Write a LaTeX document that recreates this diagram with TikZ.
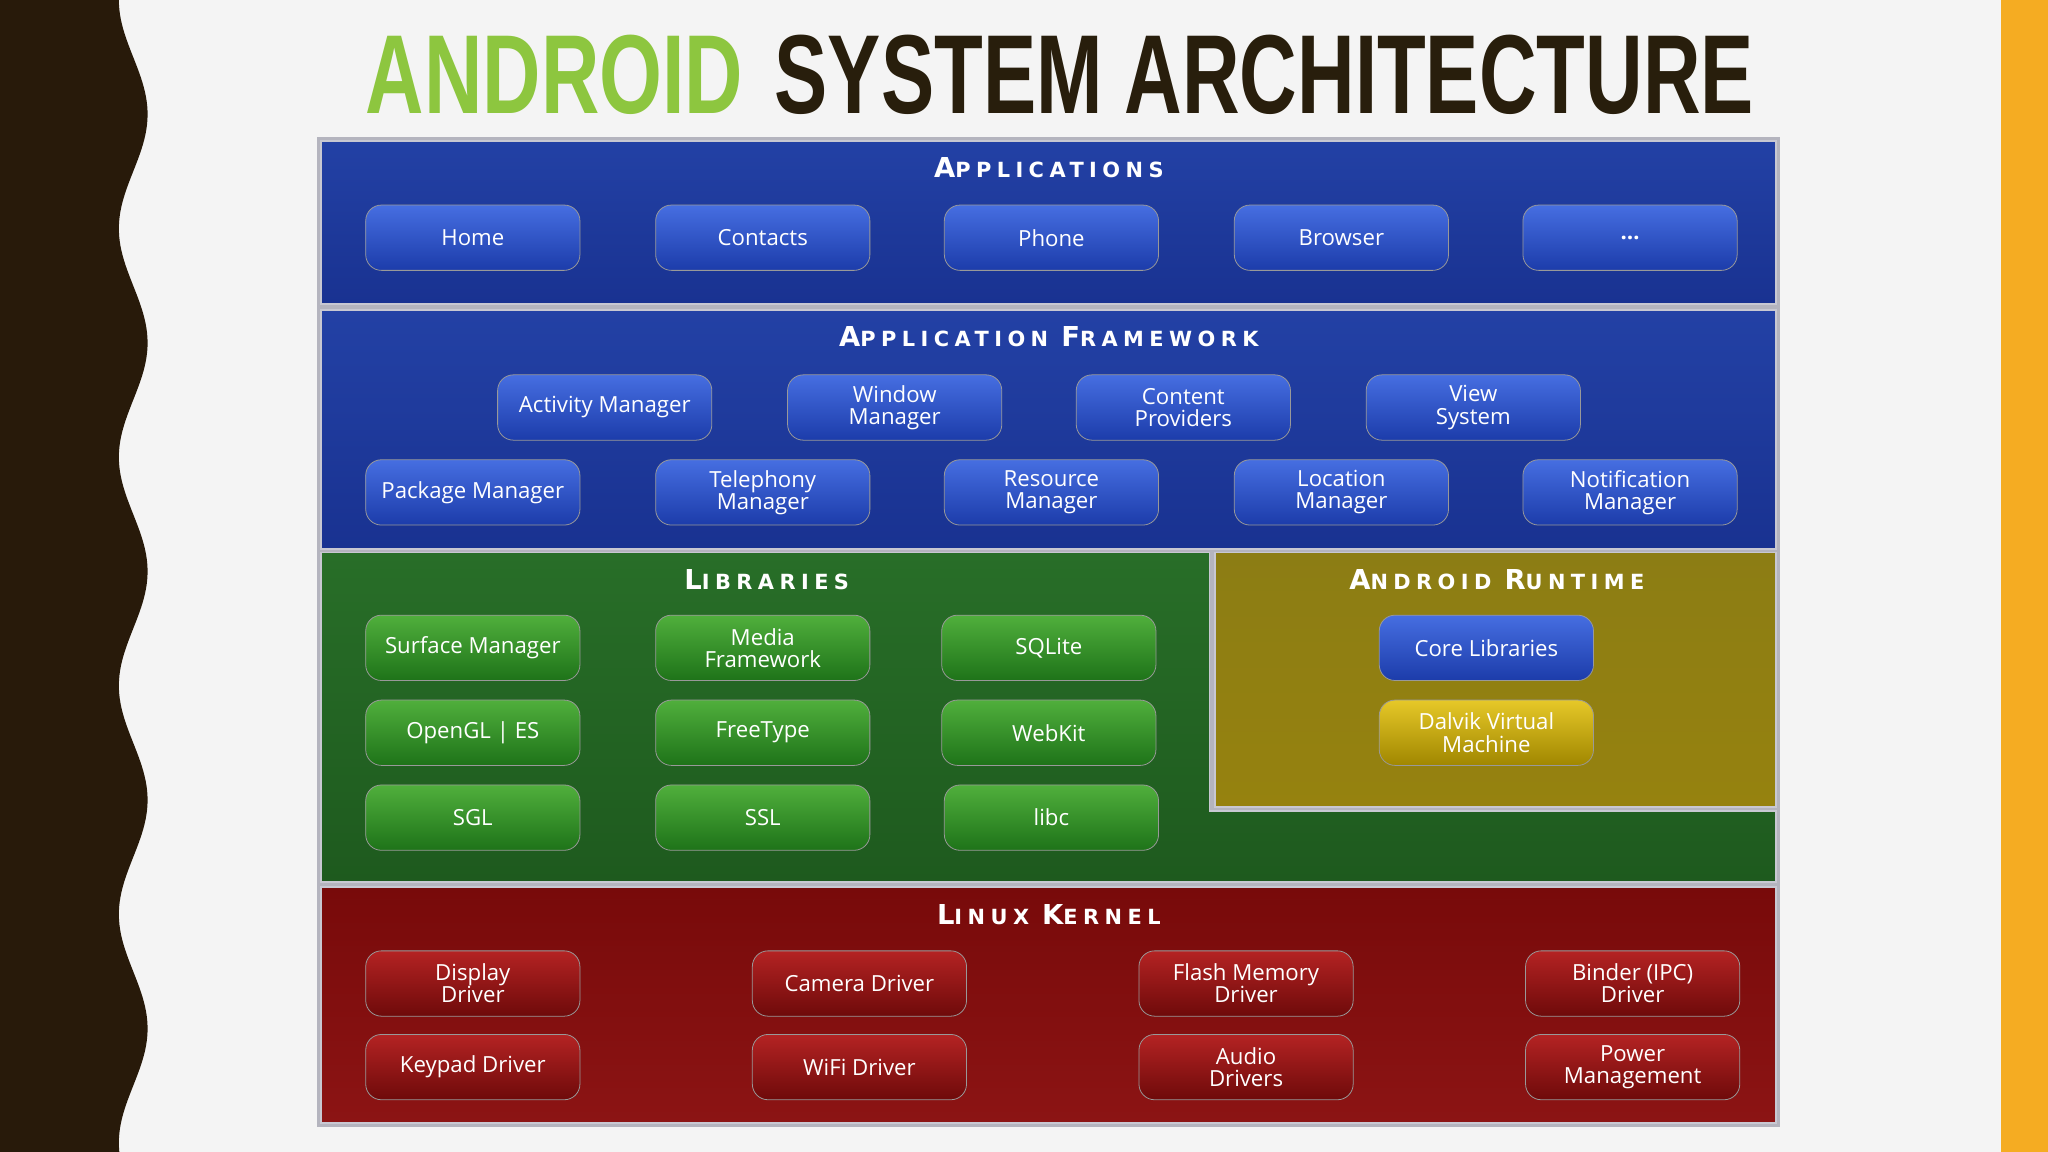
\documentclass[tikz,border=0pt]{standalone}
\usepackage{fontspec}
\setmainfont{Open Sans}
\newfontfamily\titlefont{Liberation Sans}
\newfontfamily\headfont[LetterSpace=26]{DejaVu Sans}
\newcommand{\hw}[2]{{\fontsize{21}{21}\selectfont #1}{\fontsize{16}{16}\selectfont #2}}
\definecolor{bg}{RGB}{244,244,244}
\definecolor{orng}{RGB}{245,172,34}
\definecolor{brn}{RGB}{40,26,10}
\definecolor{tgreen}{RGB}{141,198,63}
\definecolor{tdark}{RGB}{40,30,12}
\definecolor{frm}{RGB}{180,180,190}
\definecolor{pedge}{RGB}{200,200,210}
\definecolor{bluet}{RGB}{70,110,225}\definecolor{blueb}{RGB}{28,60,170}
\definecolor{greent}{RGB}{80,175,60}\definecolor{greenb}{RGB}{30,115,25}
\definecolor{redt}{RGB}{180,35,35}\definecolor{redb}{RGB}{110,10,10}
\definecolor{yelt}{RGB}{230,200,40}\definecolor{yelb}{RGB}{160,135,0}
\definecolor{pblt}{RGB}{35,65,165}\definecolor{pblb}{RGB}{25,50,145}
\definecolor{pgrt}{RGB}{40,110,40}\definecolor{pgrb}{RGB}{30,90,30}
\definecolor{pyet}{RGB}{140,125,20}\definecolor{pyeb}{RGB}{150,130,15}
\definecolor{pret}{RGB}{120,10,10}\definecolor{preb}{RGB}{140,20,20}
\begin{document}
\begin{tikzpicture}[x=1pt,y=-1pt,
  btn/.style={rounded corners=12pt,minimum width=164pt,minimum height=50pt,inner sep=2pt,
     text=white,align=center,font=\fontsize{17}{17}\selectfont,draw=black!40,line width=0.6pt},
  bblue/.style={btn,top color=bluet,bottom color=blueb},
  bgreen/.style={btn,top color=greent,bottom color=greenb},
  bred/.style={btn,top color=redt,bottom color=redb},
  byel/.style={btn,top color=yelt,bottom color=yelb},
  panel/.style={draw=pedge,line width=1.5pt},
  head/.style={text=white,font=\headfont\bfseries}]
\useasboundingbox (0,0) rectangle (1568,882);
\fill[bg] (0,0) rectangle (1568,882);
\fill[orng] (1532,0) rectangle (1568,882);
\fill[brn] (0,0) -- plot[domain=0:5.04,samples=240] ({102-11*cos(360*\x)},{175*\x}) -- (0,882) -- cycle;
% title
\node[anchor=west,inner sep=0,xscale=0.72,text=tgreen] (t1) at (280,57) {\titlefont\bfseries\fontsize{86}{86}\selectfont ANDROID};
\node[anchor=east,inner sep=0,xscale=0.71,text=tdark] (t2) at (1343,57) {\titlefont\bfseries\fontsize{86}{86}\selectfont SYSTEM ARCHITECTURE};
% frame
\fill[frm] (243,105) rectangle (1363,863);
% panels
\shade[panel,top color=pblt,bottom color=pblb] (246,108) rectangle (1360,233);
\shade[panel,top color=pblt,bottom color=pblb] (246,237) rectangle (1360,420);
\shade[panel,top color=pgrt,bottom color=pgrb] (246,423) -- (926,423) -- (926,621) -- (1360,621) -- (1360,675) -- (246,675) -- cycle;
\shade[panel,top color=pyet,bottom color=pyeb] (930,423) rectangle (1360,618);
\shade[panel,top color=pret,bottom color=preb] (246,679) rectangle (1360,860);
% headers
\node[head] (h1) at (803,128) {\hw{A}{PPLICATIONS}};
\node[head] (h2) at (803,258) {\hw{A}{PPLICATION}\hspace{10pt}\hw{F}{RAMEWORK}};
\node[head] (h3) at (587,444) {\hw{L}{IBRARIES}};
\node[head] (h4) at (1146,444) {\hw{A}{NDROID}\hspace{10pt}\hw{R}{UNTIME}};
\node[head] (h5) at (803,700) {\hw{L}{INUX}\hspace{10pt}\hw{K}{ERNEL}};
% applications
\node[bblue] (a1) at (362,182) {Home};
\node[bblue] (a2) at (584,182) {Contacts};
\node[bblue] (a3) at (805,182) {Phone};
\node[bblue] (a4) at (1027,182) {Browser};
\node[bblue] (a5) at (1248,182) {\bfseries\dots};
% framework
\node[bblue] (f1) at (463,312) {Activity Manager};
\node[bblue] (f2) at (685,312) {Window\\Manager};
\node[bblue] (f3) at (906,312) {Content\\Providers};
\node[bblue] (f4) at (1128,312) {View\\System};
\node[bblue] (f5) at (362,377) {Package Manager};
\node[bblue] (f6) at (584,377) {Telephony\\Manager};
\node[bblue] (f7) at (805,377) {Resource\\Manager};
\node[bblue] (f8) at (1027,377) {Location\\Manager};
\node[bblue] (f9) at (1248,377) {Notification\\Manager};
% libraries
\node[bgreen] (l1) at (362,496) {Surface Manager};
\node[bgreen] (l2) at (584,496) {Media\\Framework};
\node[bgreen] (l3) at (803,496) {SQLite};
\node[bgreen] (l4) at (362,561) {OpenGL | ES};
\node[bgreen] (l5) at (584,561) {FreeType};
\node[bgreen] (l6) at (803,561) {WebKit};
\node[bgreen] (l7) at (362,626) {SGL};
\node[bgreen] (l8) at (584,626) {SSL};
\node[bgreen] (l9) at (805,626) {libc};
% runtime
\node[bblue] (r1) at (1138,496) {Core Libraries};
\node[byel] (r2) at (1138,561) {Dalvik Virtual\\Machine};
% kernel
\node[bred] (k1) at (362,753) {Display\\Driver};
\node[bred] (k2) at (658,753) {Camera Driver};
\node[bred] (k3) at (954,753) {Flash Memory\\Driver};
\node[bred] (k4) at (1250,753) {Binder (IPC)\\Driver};
\node[bred] (k5) at (362,817) {Keypad Driver};
\node[bred] (k6) at (658,817) {WiFi Driver};
\node[bred] (k7) at (954,817) {Audio\\Drivers};
\node[bred] (k8) at (1250,817) {Power\\Management};
\end{tikzpicture}
\end{document}
